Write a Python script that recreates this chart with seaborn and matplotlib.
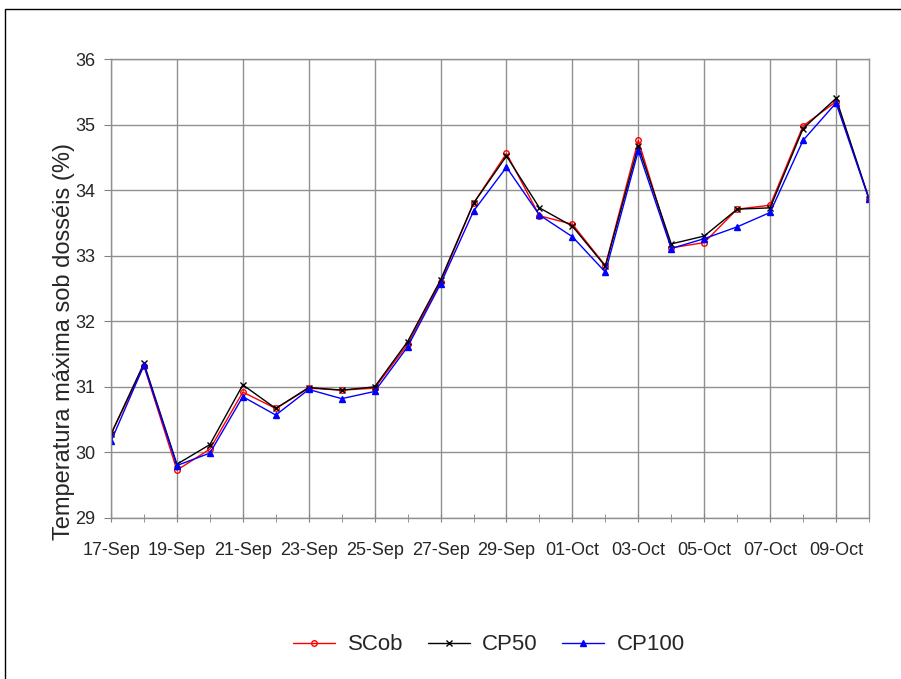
import pandas as pd
import numpy as np
import matplotlib
matplotlib.use("Agg")
import matplotlib.pyplot as plt
import matplotlib.dates as mdates
from matplotlib.patches import Rectangle
import seaborn as sns

# Dados
dias = pd.date_range("2008-09-17", "2008-10-10", freq="D")
scob = [30.28, 31.32, 29.73, 30.05, 30.92, 30.67, 30.98, 30.95, 30.98, 31.65,
        32.60, 33.80, 34.56, 33.61, 33.48, 32.85, 34.76, 33.12, 33.20, 33.71,
        33.77, 34.98, 35.35, 33.87]
cp50 = [30.28, 31.36, 29.82, 30.12, 31.03, 30.67, 30.99, 30.95, 31.00, 31.69,
        32.63, 33.80, 34.52, 33.73, 33.45, 32.84, 34.67, 33.18, 33.30, 33.71,
        33.73, 34.94, 35.40, 33.87]
cp100 = [30.17, 31.33, 29.80, 29.99, 30.85, 30.57, 30.96, 30.82, 30.93, 31.61,
         32.57, 33.68, 34.35, 33.62, 33.29, 32.75, 34.60, 33.11, 33.26, 33.44,
         33.66, 34.76, 35.33, 33.86]
series = ["SCob", "CP50", "CP100"]
cores = {"SCob": "#FF0000", "CP50": "#000000", "CP100": "#0000FF"}
marcadores = {"SCob": "o", "CP50": "x", "CP100": "^"}

df = pd.DataFrame({"Data": dias, "SCob": scob, "CP50": cp50, "CP100": cp100})
df = df.melt(id_vars="Data", var_name="Serie", value_name="Temp")

sns.set_style("white")
plt.rcParams["font.family"] = ["Liberation Sans", "DejaVu Sans"]

fig = plt.figure(figsize=(9.01, 6.79), dpi=100)
ax = fig.add_axes([111 / 901, 1 - 518 / 679, (869 - 111) / 901, (518 - 59) / 679])

for s in series:
    d = df[df["Serie"] == s]
    sns.lineplot(data=d, x="Data", y="Temp", ax=ax, color=cores[s], label=s,
                 linewidth=1, marker=marcadores[s], markersize=4,
                 markerfacecolor="none" if s == "SCob" else cores[s],
                 markeredgecolor=cores[s], markeredgewidth=1)

ax.set_xlim(dias[0], dias[-1])
ax.set_ylim(29, 36)
ax.set_yticks(range(29, 37))
ax.set_xticks(dias[::2])
ax.set_xticks(dias, minor=True)
ax.xaxis.set_major_formatter(mdates.DateFormatter("%d-%b"))
ax.grid(True, which="major", color="#909090", linewidth=1)
ax.tick_params(axis="y", which="major", labelsize=13, color="#808080",
               length=5, direction="out", left=True, pad=6)
ax.tick_params(axis="x", which="both", labelsize=13, color="#808080",
               length=6, direction="inout", bottom=True, pad=14)
for sp in ax.spines.values():
    sp.set_color("#909090")
    sp.set_linewidth(1)
ax.set_xlabel("")
ax.set_ylabel("Temperatura máxima sob dosséis (%)", fontsize=17)
ax.yaxis.set_label_coords(-0.048, 0.385)

ax.legend(loc="center", bbox_to_anchor=(489 / 901, 1 - 645 / 679),
          bbox_transform=fig.transFigure, ncol=3, frameon=False, fontsize=16,
          handlelength=1.9, columnspacing=1.1, handletextpad=0.55,
          borderaxespad=0, borderpad=0)

# moldura externa
fig.patches.append(Rectangle((5 / 901, -0.01), 1.0, 1 - 9 / 679 + 0.01,
                             transform=fig.transFigure, fill=False,
                             edgecolor="black", linewidth=1))

fig.savefig("out.png", dpi=100)
